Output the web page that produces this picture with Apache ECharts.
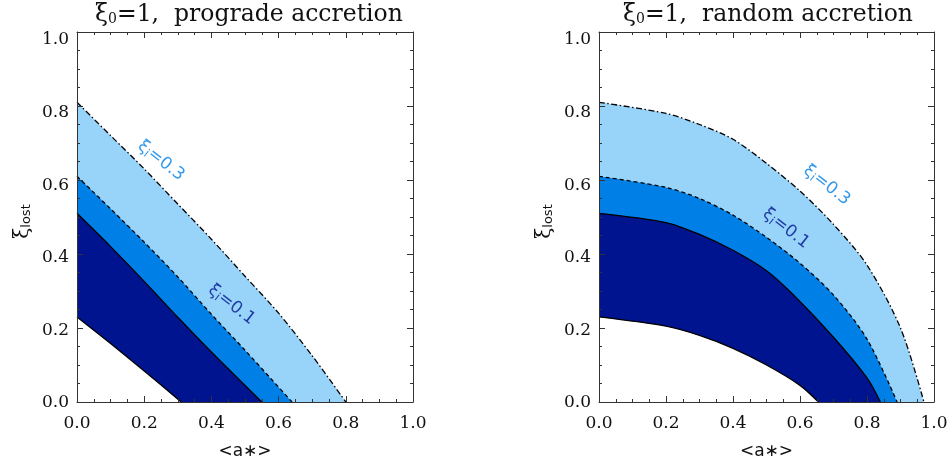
<!DOCTYPE html>
<html><head><meta charset="utf-8">
<script src="https://cdn.jsdelivr.net/npm/echarts@6/dist/echarts.min.js"></script>
<style>html,body{margin:0;padding:0;background:#fff}#c{width:951px;height:465px}</style>
</head><body><div id="c"></div>
<script>
// Data (a*, xi_lost)
const progradeXi03 = [[0,0.81],[0.1,0.72],[0.2,0.63],[0.3,0.535],[0.4,0.44],[0.5,0.34],[0.6,0.24],[0.7,0.125],[0.8,0]];
const progradeXi01 = [[0,0.61],[0.1,0.522],[0.2,0.432],[0.3,0.338],[0.4,0.237],[0.5,0.14],[0.64,0]];
const progradeXi00 = [[0,0.51],[0.1,0.42],[0.2,0.326],[0.3,0.229],[0.4,0.135],[0.55,0]];
const progradeInner = [[0,0.23],[0.1,0.158],[0.2,0.084],[0.31,0]];
const randomXi03 = [[0,0.81],[0.2,0.78],[0.3,0.75],[0.4,0.71],[0.5,0.645],[0.6,0.57],[0.7,0.48],[0.8,0.37],[0.9,0.2],[0.97,0]];
const randomXi01 = [[0,0.61],[0.2,0.58],[0.3,0.55],[0.4,0.505],[0.5,0.445],[0.6,0.375],[0.7,0.289],[0.8,0.17],[0.89,0]];
const randomXi00 = [[0,0.51],[0.2,0.485],[0.3,0.453],[0.4,0.41],[0.5,0.355],[0.58,0.29],[0.7,0.175],[0.8,0.065],[0.84,0]];
const randomInner = [[0,0.23],[0.2,0.205],[0.3,0.18],[0.4,0.145],[0.5,0.1],[0.6,0.045],[0.655,0]];
const panelTitles = ['prograde accretion', 'random accretion'];
const labelPos = {
  left:  {l03:[0.25,0.652], l01:[0.46,0.263]},
  right: {l03:[0.68,0.586], l01:[0.558,0.469]}
};

const C_DARK = '#00148f', C_MED = '#0080e6', C_LIGHT = '#98d3fa';
const FRAME = '#333';
const SERIF = 'DejaVu Serif';

function tickAxis(gridIndex, position, showLabel, name) {
  const ax = {
    type:'value', gridIndex, position, min:0, max:1, interval:0.2, z:10,
    axisLine:{show:true, onZero:false, lineStyle:{color:FRAME, width:1}},
    axisTick:{show:true, inside:true, length:6, lineStyle:{color:FRAME}},
    minorTick:{show:true, splitNumber:4, length:3, lineStyle:{color:FRAME}},
    splitLine:{show:false},
    axisLabel:{show:showLabel, color:'#111', fontFamily:SERIF, fontSize:17, margin:13,
      formatter:v=>v.toFixed(1)}
  };
  if (name) {
    ax.name = name; ax.nameLocation='middle'; ax.nameGap = 41;
    ax.nameTextStyle = {color:'#111', fontFamily:'DejaVu Sans', fontSize:17};
  }
  return ax;
}
function labelYAxis(gridIndex) {
  return {type:'value', gridIndex, min:0, max:1, interval:0.2,
    axisLine:{show:false}, axisTick:{show:false}, splitLine:{show:false},
    axisLabel:{show:true, color:'#111', fontFamily:SERIF, fontSize:17, margin:8, formatter:v=>v.toFixed(1)},
    name:'{a|ξ}{b|lost}', nameLocation:'middle', nameGap:44,
    nameTextStyle:{rich:{a:{fontFamily:SERIF,fontSize:20,color:'#111'},b:{fontFamily:'DejaVu Sans',fontSize:13,color:'#111',padding:[8,0,0,0]}}}
  };
}
function hiddenX(gridIndex){return {type:'value', gridIndex, min:0, max:1, show:false};}

function areaSeries(data, xi, fill, lineType, z) {
  return {type:'line', xAxisIndex:xi, yAxisIndex:xi, data, symbol:'none', z,
    smooth:0.3,
    lineStyle:{color:'#000', width:1.3, type:lineType},
    areaStyle:{color:fill, opacity:1, origin:'start'}, animation:false};
}
function xiLabel(pos, xi, value, color) {
  return {type:'scatter', xAxisIndex:xi, yAxisIndex:xi, z:20, symbolSize:0, animation:false,
    data:[pos], label:{show:true, position:'inside', rotate:-38,
      formatter:'{a|ξ}{b|i}{c|='+value+'}',
      rich:{a:{fontFamily:'DejaVu Sans',fontSize:17,color},b:{fontFamily:'DejaVu Sans',fontSize:12,color,padding:[7,0,0,0]},c:{fontFamily:'DejaVu Sans',fontSize:17,color}}}};
}

const titleRich = {x:{fontFamily:SERIF,fontSize:23.5,fontWeight:'normal',color:'#111'},s:{fontFamily:SERIF,fontSize:14,fontWeight:'normal',color:'#111',padding:[9,0,0,0]},t:{fontFamily:SERIF,fontSize:23.5,fontWeight:'normal',color:'#111'}};
const DASHDOT=[6,2.5,1.5,2.5], DASHED=[4,3];

const option = {
  backgroundColor:'#fff',
  title:[
    {text:'{x|ξ}{s|0}{t|=1,  '+panelTitles[0]+'}', left:244, textAlign:'center', top:-2, textStyle:{fontWeight:'normal',rich:titleRich}},
    {text:'{x|ξ}{s|0}{t|=1,  '+panelTitles[1]+'}', left:763, textAlign:'center', top:-2, textStyle:{fontWeight:'normal',rich:titleRich}}
  ],
  grid:[
    {left:77, top:32, width:336, height:377},
    {left:599, top:32, width:335, height:377},
    {left:77, top:40, width:336, height:363},
    {left:599, top:40, width:335, height:363}
  ],
  xAxis:[
    tickAxis(0,'bottom',true,'<a∗>'), tickAxis(0,'top',false),
    tickAxis(1,'bottom',true,'<a∗>'), tickAxis(1,'top',false),
    hiddenX(2), hiddenX(3)
  ],
  yAxis:[
    tickAxis(0,'left',false), tickAxis(0,'right',false),
    tickAxis(1,'left',false), tickAxis(1,'right',false),
    labelYAxis(2), labelYAxis(3)
  ],
  series:[
    areaSeries(progradeXi03,0,C_LIGHT,DASHDOT,2),
    areaSeries(progradeXi01,0,C_MED,DASHED,3),
    areaSeries(progradeXi00,0,C_DARK,'solid',4),
    areaSeries(progradeInner,0,'#fff','solid',5),
    areaSeries(randomXi03,2,C_LIGHT,DASHDOT,2),
    areaSeries(randomXi01,2,C_MED,DASHED,3),
    areaSeries(randomXi00,2,C_DARK,'solid',4),
    areaSeries(randomInner,2,'#fff','solid',5),
    xiLabel(labelPos.left.l03,0,'0.3',C_MED),
    xiLabel(labelPos.left.l01,0,'0.1',C_DARK),
    xiLabel(labelPos.right.l03,2,'0.3',C_MED),
    xiLabel(labelPos.right.l01,2,'0.1',C_DARK)
  ]
};
const chart = echarts.init(document.getElementById('c'), null, {renderer:'canvas'});
chart.setOption(option);
</script></body></html>
